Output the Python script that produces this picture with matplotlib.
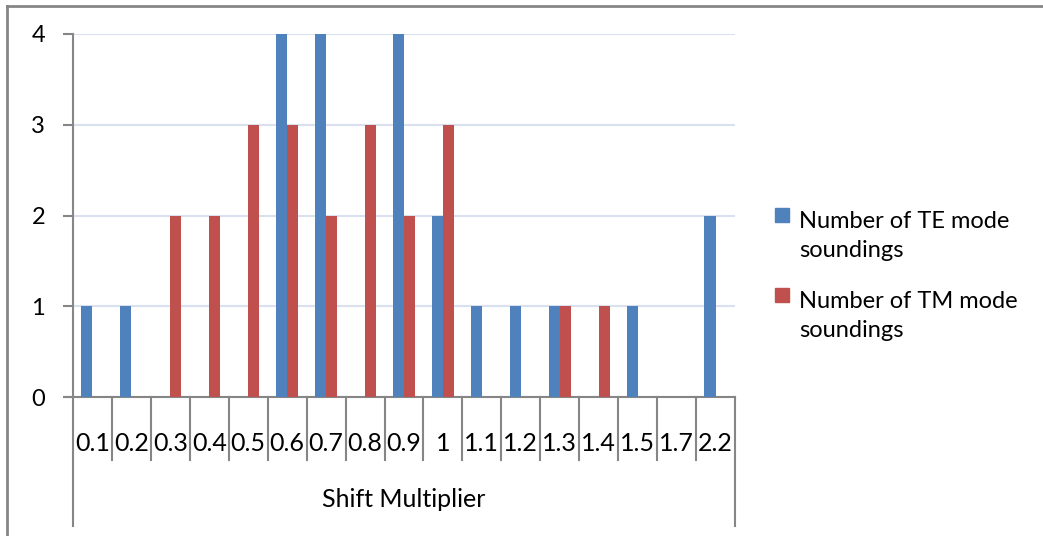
import matplotlib.pyplot as plt
from matplotlib.lines import Line2D
from matplotlib.patches import Rectangle
import numpy as np

plt.rcParams['font.family'] = ['Lato', 'DejaVu Sans']

#data
categories = ['0.1', '0.2', '0.3', '0.4', '0.5', '0.6', '0.7', '0.8', '0.9', '1',
              '1.1', '1.2', '1.3', '1.4', '1.5', '1.7', '2.2']
te_counts = [1, 1, 0, 0, 0, 4, 4, 0, 4, 2, 1, 1, 1, 0, 1, 0, 2]
tm_counts = [0, 0, 2, 2, 3, 3, 2, 3, 2, 3, 0, 0, 1, 1, 0, 0, 0]
te_label = 'Number of TE mode\nsoundings'
tm_label = 'Number of TM mode\nsoundings'
x_title = 'Shift Multiplier'

blue = '#4F81BD'
red = '#C0504D'
axis_gray = '#868686'

W, H = 1043, 536
fig = plt.figure(figsize=(W / 100, H / 100), dpi=100)

#axes box in pixel coords
left, right, top, bottom = 73, 735, 34, 397
ax = fig.add_axes([left / W, 1 - bottom / H, (right - left) / W, (bottom - top) / H])

x = np.arange(len(categories))
bw = 0.286
ax.bar(x - bw / 2, te_counts, width=bw, color=blue, zorder=3)
ax.bar(x + bw / 2, tm_counts, width=bw, color=red, zorder=3)

ax.set_xlim(-0.5, len(categories) - 0.5)
ax.set_ylim(0, 4)
ax.set_yticks([0, 1, 2, 3, 4])
ax.yaxis.grid(True, color='#D9E1F0', linewidth=1.5, zorder=0)
ax.set_xticks([])
ax.tick_params(axis='y', length=7, width=1.5, color=axis_gray, pad=13, labelsize=17)

for side in ['top', 'right']:
    ax.spines[side].set_visible(False)
for side in ['left', 'bottom']:
    ax.spines[side].set_color(axis_gray)
    ax.spines[side].set_linewidth(1.5)
ax.spines['bottom'].set_bounds(-0.5, len(categories) - 0.5)

#category table under the axis
ah = bottom - top
trans = ax.get_xaxis_transform()
inner = -(460 - bottom) / ah
outer = -(526 - bottom) / ah
for i in range(1, len(categories)):
    ax.add_line(Line2D([i - 0.5, i - 0.5], [0, inner], transform=trans,
                       color=axis_gray, linewidth=1.5, clip_on=False))
for xe in [-0.5, len(categories) - 0.5]:
    ax.add_line(Line2D([xe, xe], [0, outer], transform=trans,
                       color=axis_gray, linewidth=1.5, clip_on=False))
# tick stub left of zero
ax.add_line(Line2D([-7 / (right - left), 0], [0, 0], transform=ax.transAxes,
                   color=axis_gray, linewidth=1.5, clip_on=False))

for i, c in enumerate(categories):
    ax.text(i, -(451 - bottom) / ah, c, transform=trans, ha='center', va='baseline',
            fontsize=18)

ax.set_xlabel(x_title, fontsize=18, va='baseline')
ax.xaxis.set_label_coords(0.5, -(507 - bottom) / ah)

#legend drawn by hand to match the excel layout
fig.patches.append(Rectangle((775 / W, 1 - 222 / H), 14 / W, 14 / H, color=blue,
                             transform=fig.transFigure))
fig.patches.append(Rectangle((775 / W, 1 - 302 / H), 14 / W, 14 / H, color=red,
                             transform=fig.transFigure))
fig.text(799 / W, 1 - 257 / H, te_label, fontsize=17, va='baseline', linespacing=1.45)
fig.text(799 / W, 1 - 337 / H, tm_label, fontsize=17, va='baseline', linespacing=1.45)

#outer frame (top and left edges visible)
fig.add_artist(Line2D([7 / W, 1], [1 - 6 / H, 1 - 6 / H], transform=fig.transFigure,
                      color=axis_gray, linewidth=2))
fig.add_artist(Line2D([7 / W, 7 / W], [0, 1 - 6 / H], transform=fig.transFigure,
                      color=axis_gray, linewidth=2))

plt.savefig('out.png', dpi=100)
